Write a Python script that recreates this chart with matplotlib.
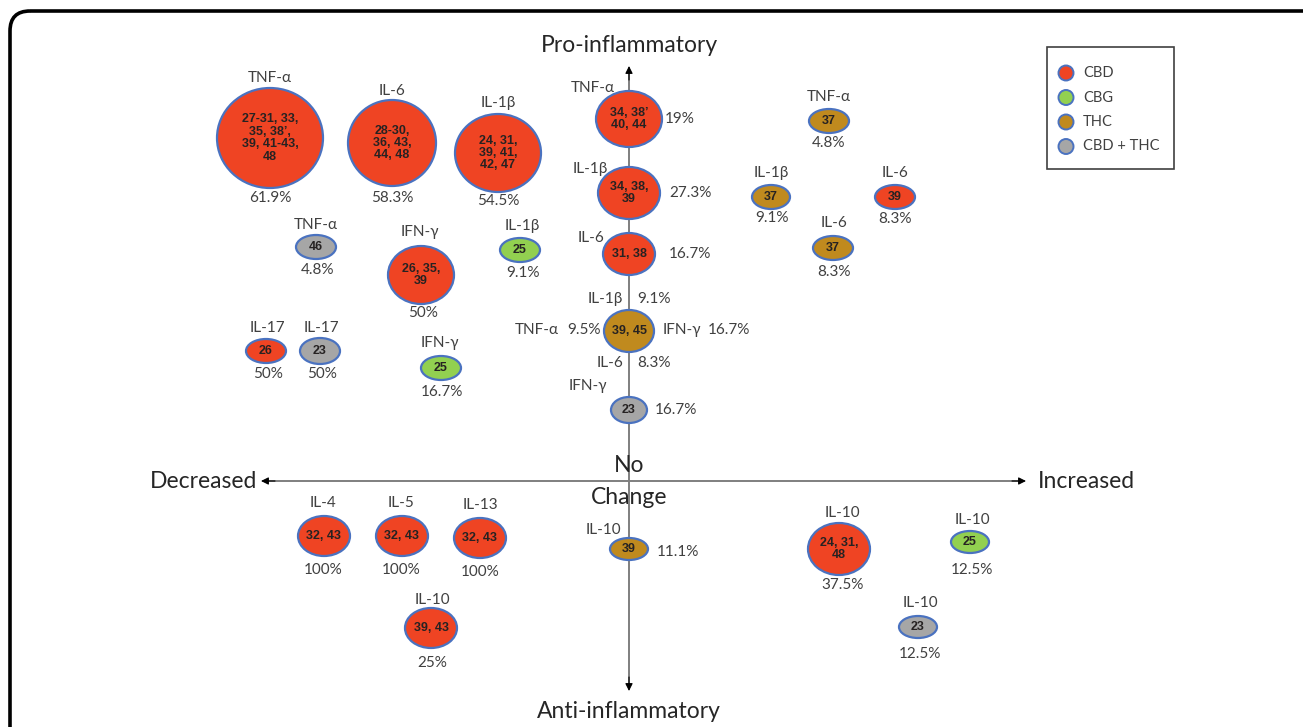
import matplotlib
matplotlib.use("Agg")
import matplotlib.pyplot as plt
from matplotlib.patches import Ellipse, FancyBboxPatch, Rectangle

# ---------------- data ----------------
compound_names = ["CBD", "CBG", "THC", "CBD + THC"]
compound_colors = ["#EF4423", "#92D050", "#C08A1E", "#A6A6A6"]

# bubbles: compound index, reference numbers, centre x, centre y, width, height
b_comp = [0, 0, 0,
          3, 0, 1,
          0, 3, 1,
          0, 0, 0, 2, 3,
          2, 2, 0, 2,
          0, 0, 0, 0,
          2, 0, 1, 3]
b_refs = ["27-31, 33,\n35, 38’,\n39, 41-43,\n48", "28-30,\n36, 43,\n44, 48", "24, 31,\n39, 41,\n42, 47",
          "46", "26, 35,\n39", "25",
          "26", "23", "25",
          "34, 38’\n40, 44", "34, 38,\n39", "31, 38", "39, 45", "23",
          "37", "37", "39", "37",
          "32, 43", "32, 43", "32, 43", "39, 43",
          "39", "24, 31,\n48", "25", "23"]
b_x = [270, 392, 498,
       316, 421, 520,
       266, 320, 441,
       629, 629, 629, 629, 629,
       829, 771, 895, 833,
       324, 402, 480, 431,
       629, 839, 970, 918]
b_y = [138, 143, 153,
       247, 275, 250,
       351, 351, 368,
       119, 193, 254, 331, 410,
       121, 197, 197, 248,
       536, 536, 538, 628,
       549, 549, 542, 627]
b_w = [106, 88, 86,
       40, 66, 40,
       40, 40, 40,
       66, 62, 52, 50, 36,
       40, 38, 40, 40,
       52, 52, 52, 52,
       38, 62, 38, 38]
b_h = [100, 86, 78,
       24, 58, 24,
       24, 26, 24,
       56, 52, 42, 42, 26,
       24, 24, 24, 24,
       40, 40, 40, 40,
       22, 52, 22, 22]

# text labels: cytokine names and percentages
t_text = ["TNF-α", "61.9%", "IL-6", "58.3%", "IL-1β", "54.5%",
          "TNF-α", "4.8%", "IFN-γ", "50%", "IL-1β", "9.1%",
          "IL-17", "50%", "IL-17", "50%", "IFN-γ", "16.7%",
          "TNF-α", "19%", "IL-1β", "27.3%", "IL-6", "16.7%",
          "IL-1β", "9.1%", "TNF-α", "9.5%", "IFN-γ", "16.7%", "IL-6", "8.3%",
          "IFN-γ", "16.7%",
          "TNF-α", "4.8%", "IL-1β", "9.1%", "IL-6", "8.3%", "IL-6", "8.3%",
          "IL-4", "100%", "IL-5", "100%", "IL-13", "100%", "IL-10", "25%",
          "IL-10", "11.1%", "IL-10", "37.5%", "IL-10", "12.5%", "IL-10", "12.5%"]
t_x = [270, 270, 392, 392, 498, 498,
       316, 318, 420, 423, 522, 523,
       267, 268, 321, 322, 440, 442,
       593, 665, 590, 669, 591, 669,
       623, 637, 537, 567, 663, 708, 623, 637,
       588, 655,
       829, 829, 771, 772, 895, 895, 834, 834,
       323, 323, 401, 401, 480, 480, 432, 432,
       603, 657, 842, 843, 972, 972, 920, 920]
t_y = [78, 198, 91, 198, 103, 201,
       225, 270, 232, 313, 226, 273,
       328, 374, 328, 374, 343, 392,
       88, 119, 169, 193, 238, 254,
       299, 299, 330, 330, 330, 330, 363, 363,
       386, 410,
       97, 143, 173, 218, 173, 219, 223, 272,
       503, 570, 503, 570, 505, 572, 600, 663,
       530, 552, 513, 585, 520, 570, 603, 654]
t_ha = ["center"] * 18 + \
       ["center", "left", "center", "left", "center", "left",
        "right", "left", "center", "left", "left", "left", "right", "left",
        "center", "left"] + ["center"] * 16 + \
       ["center", "left", "center", "center", "center", "center", "center", "center"]

axis_labels = ["Pro-inflammatory", "Anti-inflammatory", "Decreased", "Increased", "No", "Change"]

# ---------------- drawing ----------------
plt.rcParams["font.family"] = ["Lato", "DejaVu Sans"]
fig = plt.figure(figsize=(13.03, 7.27), dpi=100)
ax = fig.add_axes([0, 0, 1, 1])
ax.set_xlim(0, 1303)
ax.set_ylim(727, 0)
ax.axis("off")

# rounded frame (continues past the right/bottom edges)
ax.add_patch(FancyBboxPatch((10, 11), 1360, 780, boxstyle="round,pad=0,rounding_size=20",
                            fill=False, lw=2.6, ec="black", zorder=1))

# axes lines
axis_col = "#7F7F7F"
cx, cy = 629, 481
ax.plot([cx, cx], [72, 684], color=axis_col, lw=1.4, zorder=2)
ax.plot([268, 1018], [cy, cy], color=axis_col, lw=1.4, zorder=2)
for tip, tail in [((cx, 66), (cx, 80)), ((cx, 691), (cx, 677)),
                  ((261, cy), (275, cy)), ((1026, cy), (1012, cy))]:
    ax.annotate("", xy=tip, xytext=tail,
                arrowprops=dict(arrowstyle="-|>", color="black", lw=0.8,
                                mutation_scale=11, shrinkA=0, shrinkB=0), zorder=3)

big = 16.5
ax.text(cx, 46, axis_labels[0], ha="center", va="center", fontsize=big, color="#262626")
ax.text(cx, 712, axis_labels[1], ha="center", va="center", fontsize=big, color="#262626")
ax.text(204, 481, axis_labels[2], ha="center", va="center", fontsize=big, color="#262626")
ax.text(1086, 481, axis_labels[3], ha="center", va="center", fontsize=big, color="#262626")
ax.text(cx, 466, axis_labels[4], ha="center", va="center", fontsize=big, color="#262626", zorder=4)
ax.text(cx, 497, axis_labels[5], ha="center", va="center", fontsize=big, color="#262626", zorder=4)

# bubbles
for ci, r, x, y, w, h in zip(b_comp, b_refs, b_x, b_y, b_w, b_h):
    ax.add_patch(Ellipse((x, y), w, h, facecolor=compound_colors[ci],
                         edgecolor="#4A72C0", lw=1.6, zorder=5))
    ax.text(x, y, r, ha="center", va="center", fontsize=9, fontweight="bold",
            color="#262222", linespacing=1.05, family="Liberation Sans", zorder=6)

# labels
for s, x, y, ha in zip(t_text, t_x, t_y, t_ha):
    ax.text(x, y, s, ha=ha, va="center", fontsize=11, color="#404040", zorder=6)

# legend box
ax.add_patch(Rectangle((1047, 47), 127, 122, fill=False, ec="#404040", lw=1.2, zorder=5))
for i, (name, col) in enumerate(zip(compound_names, compound_colors)):
    yy = 73 + i * 24.5
    ax.add_patch(Ellipse((1066, yy), 15, 15, facecolor=col, edgecolor="#4A72C0", lw=1.4, zorder=6))
    ax.text(1083, yy, name, ha="left", va="center", fontsize=10.5, color="#404040", zorder=6)

fig.savefig("out.png", dpi=100)
